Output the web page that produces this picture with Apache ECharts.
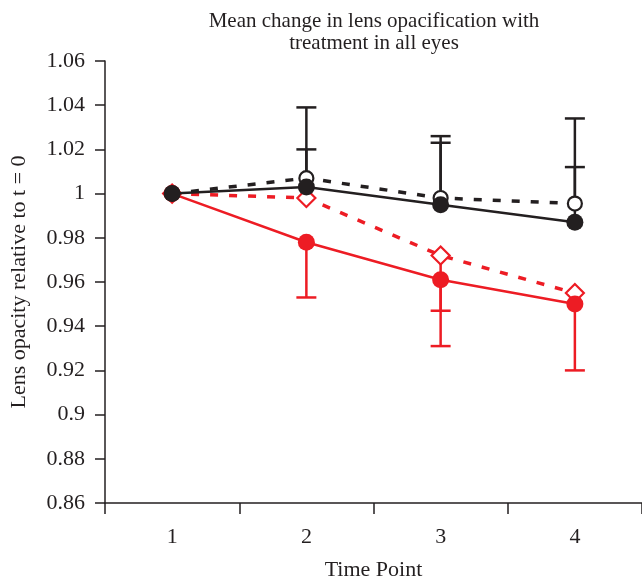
<!DOCTYPE html>
<html>
<head>
<meta charset="utf-8">
<script src="https://cdn.jsdelivr.net/npm/echarts@6/dist/echarts.min.js"></script>
<style>
html,body{margin:0;padding:0;background:#fff;}
#chart{width:642px;height:583px;}
</style>
</head>
<body>
<div id="chart"></div>
<script>
// ---- data ----
var timePoints = ['1', '2', '3', '4'];
var blackFilled = [1.000, 1.003, 0.995, 0.987];
var blackOpen   = [1.000, 1.007, 0.998, 0.9955];
var redFilled   = [1.000, 0.978, 0.961, 0.950];
var redOpen     = [1.000, 0.998, 0.972, 0.955];
// error bar end values (null = no bar)
var blackFilledErr = [null, 1.020, 1.023, 1.012];
var blackOpenErr   = [null, 1.039, 1.026, 1.034];
var redFilledErr   = [null, 0.953, 0.947, 0.920];
var redOpenErr     = [null, null, 0.931, null];
var yTicks = [0.86, 1.06, 0.02];

var BLACK = '#231f20';
var RED = '#ed1c24';
var FONT = '"Liberation Serif", "DejaVu Serif", serif';

function errData(vals, ends) {
  var out = [];
  for (var i = 0; i < vals.length; i++) {
    if (ends[i] !== null) out.push([i, vals[i], ends[i]]);
  }
  return out;
}

function errSeries(vals, ends, color, z) {
  return {
    type: 'custom',
    z: z,
    silent: true,
    data: errData(vals, ends),
    renderItem: function (params, api) {
      var x = api.value(0);
      var p0 = api.coord([x, api.value(1)]);
      var p1 = api.coord([x, api.value(2)]);
      var hw = 10;
      var st = {stroke: color, lineWidth: 2.5};
      return {
        type: 'group',
        children: [
          {type: 'line', shape: {x1: p0[0], y1: p0[1], x2: p1[0], y2: p1[1]}, style: st},
          {type: 'line', shape: {x1: p1[0] - hw, y1: p1[1], x2: p1[0] + hw, y2: p1[1]}, style: st}
        ]
      };
    },
    encode: {x: 0, y: [1, 2]}
  };
}

var chart = echarts.init(document.getElementById('chart'), null, {renderer: 'canvas'});
chart.setOption({
  animation: false,
  backgroundColor: '#fff',
  title: {
    text: 'Mean change in lens opacification with\ntreatment in all eyes',
    left: 369,
    top: 5,
    textAlign: 'center',
    textStyle: {fontFamily: FONT, fontWeight: 'normal', fontSize: 21, color: BLACK, lineHeight: 22}
  },
  grid: {left: 105, right: 0, top: 61, bottom: 80, containLabel: false, outerBoundsMode: 'none'},
  xAxis: {
    type: 'category',
    data: timePoints,
    boundaryGap: true,
    name: 'Time Point',
    nameLocation: 'middle',
    nameGap: 56,
    nameTextStyle: {fontFamily: FONT, fontSize: 22, color: BLACK},
    axisLine: {lineStyle: {color: BLACK, width: 1.5}},
    axisTick: {show: true, length: 11, lineStyle: {color: BLACK, width: 1.5}},
    axisLabel: {fontFamily: FONT, fontSize: 22, color: BLACK, margin: 23},
    splitLine: {show: false}
  },
  yAxis: {
    type: 'value',
    min: yTicks[0],
    max: yTicks[1],
    interval: yTicks[2],
    name: 'Lens opacity relative to t = 0',
    nameLocation: 'middle',
    nameRotate: 90,
    nameGap: 75,
    nameTextStyle: {fontFamily: FONT, fontSize: 22, color: BLACK},
    axisLine: {show: true, lineStyle: {color: BLACK, width: 1.5}},
    axisTick: {show: true, length: 10, lineStyle: {color: BLACK, width: 1.5}},
    axisLabel: {
      fontFamily: FONT, fontSize: 22, color: BLACK, margin: 20,
      formatter: function (v) { return String(parseFloat(v.toFixed(2))); }
    },
    splitLine: {show: false}
  },
  series: [
    errSeries(redOpen, redOpenErr, RED, 1),
    errSeries(redFilled, redFilledErr, RED, 1),
    errSeries(blackOpen, blackOpenErr, BLACK, 1),
    errSeries(blackFilled, blackFilledErr, BLACK, 1),
    {
      type: 'line', data: redOpen, z: 2,
      symbol: 'diamond', symbolSize: 18,
      lineStyle: {color: RED, width: 3.5, type: [8, 11]},
      itemStyle: {color: '#fff', borderColor: RED, borderWidth: 2.2}
    },
    {
      type: 'line', data: redFilled, z: 3,
      symbol: 'circle', symbolSize: 17,
      lineStyle: {color: RED, width: 2.5},
      itemStyle: {color: RED, borderWidth: 0}
    },
    {
      type: 'line', data: blackOpen, z: 4,
      symbol: 'circle', symbolSize: 14,
      lineStyle: {color: BLACK, width: 3.5, type: [8, 11]},
      itemStyle: {color: '#fff', borderColor: BLACK, borderWidth: 2.2}
    },
    {
      type: 'line', data: blackFilled, z: 5,
      symbol: 'circle', symbolSize: 17,
      lineStyle: {color: BLACK, width: 2.5},
      itemStyle: {color: BLACK, borderWidth: 0}
    }
  ]
});
</script>
</body>
</html>
